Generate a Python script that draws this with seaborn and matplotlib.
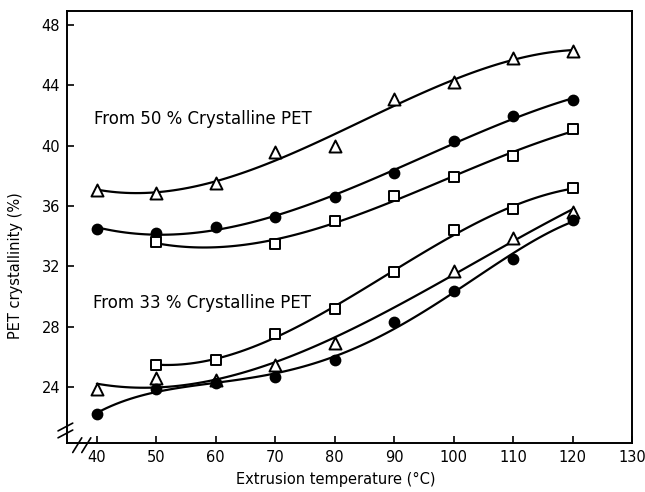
import numpy as np
import pandas as pd
import matplotlib
matplotlib.use("Agg")
import matplotlib.pyplot as plt
import seaborn as sns

# Extrusion temperatures (°C)
temps = [40, 50, 60, 70, 80, 90, 100, 110, 120]

# PET crystallinity (%) — blends made from 50 % crystalline PET
hi_triangle = [37.1, 36.9, 37.5, 39.6, 40.0, 43.1, 44.2, 45.8, 46.3]
hi_circle = [34.5, 34.2, 34.6, 35.3, 36.6, 38.2, 40.3, 42.0, 43.0]
hi_square = [np.nan, 33.6, np.nan, 33.5, 35.0, 36.7, 37.9, 39.3, 41.1]

# PET crystallinity (%) — blends made from 33 % crystalline PET
lo_square = [np.nan, 25.5, 25.8, 27.5, 29.2, 31.6, 34.4, 35.8, 37.2]
lo_triangle = [23.9, 24.6, 24.5, 25.5, 26.9, np.nan, 31.7, 33.9, 35.6]
lo_circle = [22.2, 23.9, 24.3, 24.7, 25.8, 28.3, 30.4, 32.5, 35.1]

x_ticks = [40, 50, 60, 70, 80, 90, 100, 110, 120, 130]
y_ticks = [24, 28, 32, 36, 40, 44, 48]

series = [
    # values, marker, filled, polynomial order of the smooth curve
    (hi_triangle, "^", False, 3),
    (hi_circle, "o", True, 3),
    (hi_square, "s", False, 3),
    (lo_square, "s", False, 3),
    (lo_triangle, "^", False, 3),
    (lo_circle, "o", True, 4),
]

sns.set_theme(style="ticks")
plt.rcParams["font.family"] = ["DejaVu Sans"]
plt.rcParams["text.color"] = "black"
plt.rcParams["axes.labelcolor"] = "black"

fig = plt.figure(figsize=(6.45, 4.92), dpi=100)
ax = fig.add_axes([0.104, 0.0996, 0.876, 0.878])

for values, marker, filled, order in series:
    df = pd.DataFrame({"temp": temps, "cryst": values}).dropna()
    sns.regplot(data=df, x="temp", y="cryst", order=order, ci=None,
                scatter=False, ax=ax, truncate=True,
                line_kws=dict(color="black", lw=1.6, zorder=2))
    msize = 75 if marker == "^" else 50
    sns.scatterplot(data=df, x="temp", y="cryst", marker=marker, s=msize,
                    color="black" if filled else "white",
                    edgecolor="black", linewidth=1.4, zorder=3, ax=ax)

ax.set_xlim(35, 130)
ax.set_ylim(20.3, 48.93)
ax.set_xticks(x_ticks)
ax.set_yticks(y_ticks)
ax.tick_params(direction="in", length=5, width=1.2, labelsize=10.5,
               colors="black", pad=5)

for side in ["left", "right", "top", "bottom"]:
    ax.spines[side].set_visible(True)
    ax.spines[side].set_linewidth(1.4)
    ax.spines[side].set_color("black")

ax.set_xlabel("Extrusion temperature (°C)", fontsize=10.5, color="black")
ax.set_ylabel("PET crystallinity (%)", fontsize=10.5, color="black")
ax.xaxis.set_label_coords(0.476, -0.068)
ax.yaxis.set_label_coords(-0.078, 0.41)

ax.text(39.5, 41.8, "From 50 % Crystalline PET", fontsize=12,
        va="center", ha="left", color="black")
ax.text(39.4, 29.6, "From 33 % Crystalline PET", fontsize=12,
        va="center", ha="left", color="black")

# axis-break marks on the y and x axes
brk = dict(color="black", lw=1.2, clip_on=False,
           transform=ax.transAxes)
for dy in (0.0, 0.016):
    ax.plot([-0.016, 0.010], [0.012 + dy, 0.030 + dy], **brk)
for dx in (0.0, 0.016):
    ax.plot([0.010 + dx, 0.026 + dx], [-0.022, 0.012], **brk)

fig.savefig("out.png", dpi=100)
